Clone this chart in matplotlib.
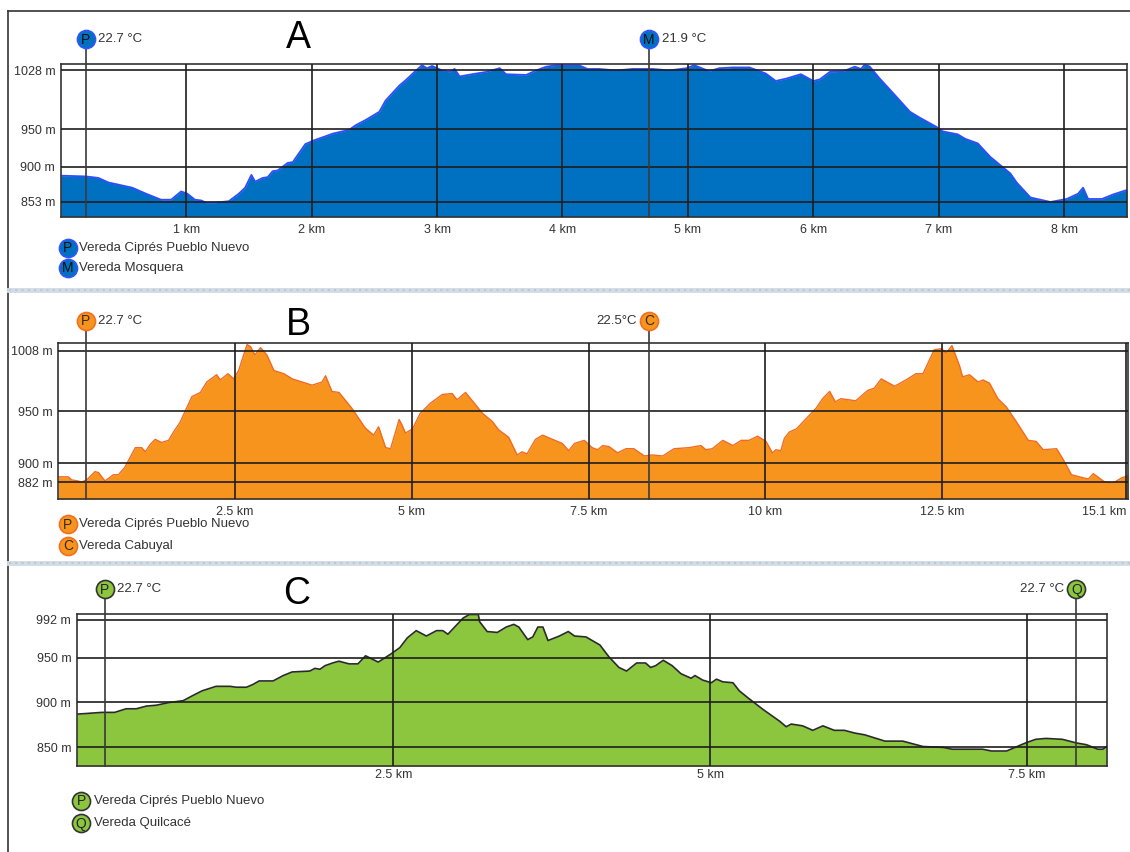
import matplotlib
matplotlib.use("Agg")
import matplotlib.pyplot as plt
from matplotlib.transforms import blended_transform_factory

plt.rcParams['font.family'] = ['Liberation Sans', 'DejaVu Sans']

W, H = 1130, 852

# elevation profiles (distance in km, elevation in m)
a_km = [0.00, 0.20, 0.30, 0.38, 0.57, 0.68, 0.80, 0.88, 0.96, 1.01, 1.07, 1.12, 1.16, 1.23,
        1.34, 1.42, 1.47, 1.52, 1.55, 1.61, 1.65, 1.69, 1.73, 1.81, 1.85, 1.95, 2.02, 2.17,
        2.30, 2.35, 2.43, 2.54, 2.59, 2.70, 2.75, 2.82, 2.88, 2.92, 2.96, 3.04, 3.10, 3.14,
        3.18, 3.28, 3.39, 3.50, 3.55, 3.71, 3.79, 3.87, 3.95, 4.13, 4.20, 4.29, 4.43, 4.56,
        4.72, 4.85, 4.99, 5.05, 5.17, 5.25, 5.36, 5.49, 5.62, 5.70, 5.78, 5.90, 6.00, 6.05,
        6.13, 6.24, 6.33, 6.38, 6.41, 6.45, 6.53, 6.64, 6.77, 6.85, 6.98, 7.03, 7.15, 7.21,
        7.31, 7.41, 7.49, 7.57, 7.62, 7.73, 7.89, 8.02, 8.11, 8.15, 8.19, 8.30, 8.39, 8.50]
a_elev = [888, 887, 885, 879, 872, 864, 856, 856, 867, 864, 856, 855, 852, 852,
          854, 864, 872, 889, 880, 885, 886, 894, 895, 905, 906, 930, 935, 944,
          949, 955, 962, 973, 988, 1008, 1015, 1026, 1035, 1031, 1034, 1028, 1026, 1030,
          1020, 1023, 1026, 1031, 1023, 1022, 1028, 1033, 1035, 1035, 1030, 1030, 1028, 1030,
          1030, 1028, 1031, 1035, 1027, 1031, 1032, 1032, 1024, 1014, 1017, 1023, 1014, 1016,
          1026, 1027, 1033, 1030, 1036, 1033, 1017, 997, 973, 965, 953, 947, 943, 937,
          931, 913, 902, 891, 879, 859, 853, 857, 864, 872, 857, 857, 863, 869]

b_km = [0.00, 0.14, 0.19, 0.28, 0.33, 0.40, 0.52, 0.57, 0.66, 0.78, 0.85, 0.94, 1.09, 1.18,
        1.23, 1.30, 1.37, 1.46, 1.56, 1.63, 1.72, 1.89, 2.01, 2.10, 2.24, 2.29, 2.40, 2.48,
        2.55, 2.67, 2.72, 2.78, 2.86, 2.95, 3.05, 3.19, 3.31, 3.59, 3.73, 3.78, 3.87, 3.97,
        4.15, 4.34, 4.46, 4.53, 4.63, 4.70, 4.77, 4.82, 4.86, 4.91, 5.01, 5.12, 5.27, 5.43,
        5.57, 5.64, 5.76, 5.88, 6.00, 6.14, 6.23, 6.37, 6.49, 6.56, 6.63, 6.75, 6.85, 6.99,
        7.13, 7.22, 7.30, 7.44, 7.55, 7.63, 7.70, 7.79, 7.91, 8.03, 8.14, 8.29, 8.40, 8.55,
        8.71, 8.92, 9.09, 9.16, 9.25, 9.40, 9.54, 9.66, 9.77, 9.89, 10.01, 10.10, 10.15, 10.22,
        10.27, 10.34, 10.44, 10.58, 10.72, 10.81, 10.91, 10.99, 11.07, 11.28, 11.45, 11.54,
        11.64, 11.83, 11.99, 12.13, 12.23, 12.39, 12.49, 12.56, 12.64, 12.75, 12.79, 12.89,
        13.01, 13.08, 13.17, 13.29, 13.41, 13.55, 13.72, 13.83, 13.93, 14.12, 14.21, 14.33,
        14.50, 14.57, 14.64, 14.80, 14.92, 15.04, 15.13]
b_elev = [887, 887, 884, 883, 882, 884, 892, 891, 883, 889, 889, 896, 915, 915,
          911, 918, 923, 920, 922, 930, 939, 964, 968, 978, 985, 980, 986, 981,
          989, 1014, 1012, 1004, 1011, 1004, 989, 986, 981, 975, 978, 984, 969, 968,
          953, 934, 927, 935, 915, 914, 930, 942, 937, 929, 933, 948, 958, 966,
          967, 961, 968, 958, 948, 940, 932, 925, 908, 911, 909, 923, 927, 923,
          919, 912, 919, 922, 915, 913, 917, 916, 910, 914, 914, 907, 908, 907,
          914, 915, 917, 913, 914, 922, 917, 922, 922, 926, 921, 910, 913, 912,
          924, 930, 933, 943, 953, 962, 969, 959, 962, 960, 970, 972,
          981, 974, 980, 986, 986, 1009, 1010, 1006, 1013, 993, 983, 985,
          978, 980, 977, 962, 954, 940, 922, 921, 913, 914, 904, 889,
          886, 885, 890, 882, 881, 886, 888]

c_km = [0.00, 0.20, 0.30, 0.39, 0.47, 0.55, 0.63, 0.73, 0.84, 0.92, 0.99, 1.10, 1.21, 1.26,
        1.34, 1.39, 1.44, 1.55, 1.63, 1.70, 1.84, 1.88, 1.92, 1.96, 2.02, 2.07, 2.15, 2.22,
        2.28, 2.38, 2.48, 2.55, 2.61, 2.68, 2.76, 2.84, 2.89, 2.93, 3.05, 3.10, 3.17, 3.18,
        3.24, 3.32, 3.39, 3.45, 3.49, 3.56, 3.60, 3.64, 3.68, 3.72, 3.81, 3.88, 3.93, 4.02,
        4.13, 4.20, 4.28, 4.34, 4.42, 4.49, 4.53, 4.57, 4.63, 4.70, 4.77, 4.85, 4.88, 4.94,
        5.01, 5.05, 5.10, 5.18, 5.23, 5.30, 5.42, 5.55, 5.60, 5.64, 5.73, 5.81, 5.89, 5.98,
        6.06, 6.14, 6.22, 6.38, 6.52, 6.68, 6.84, 6.91, 7.15, 7.22, 7.34, 7.49, 7.57, 7.65,
        7.78, 7.89, 7.97, 8.06, 8.10, 8.13]
c_elev = [887, 889, 889, 893, 893, 896, 897, 900, 902, 908, 913, 918, 918, 917,
          917, 920, 924, 924, 930, 934, 935, 938, 937, 941, 944, 946, 943, 943,
          952, 945, 954, 961, 972, 980, 974, 980, 980, 976, 994, 998, 998, 990,
          979, 978, 984, 987, 984, 970, 973, 984, 984, 969, 974, 979, 974, 973,
          964, 951, 939, 935, 944, 944, 939, 941, 947, 941, 932, 927, 930, 925,
          922, 926, 923, 922, 913, 905, 892, 879, 873, 876, 874, 869, 874, 869,
          869, 866, 864, 857, 857, 851, 850, 848, 848, 846, 846, 855, 859, 860,
          859, 855, 853, 848, 848, 851]

# axis ticks
a_xticks = [1, 2, 3, 4, 5, 6, 7, 8]
a_xlabels = ["1 km", "2 km", "3 km", "4 km", "5 km", "6 km", "7 km", "8 km"]
a_yticks = [853, 900, 950, 1028]

b_xticks = [2.5, 5, 7.5, 10, 12.5, 15.1]
b_xlabels = ["2.5 km", "5 km", "7.5 km", "10 km", "12.5 km", "15.1 km"]
b_yticks = [882, 900, 950, 1008]

c_xticks = [2.5, 5, 7.5]
c_xlabels = ["2.5 km", "5 km", "7.5 km"]
c_yticks = [850, 900, 950, 992]

# waypoints: letter, km, temperature text, text side
a_points = [("P", 0.20, "22.7 °C", "right"), ("M", 4.69, "21.9 °C", "right")]
b_points = [("P", 0.39, "22.7 °C", "right"), ("C", 8.36, "22.5°C", "left")]
c_points = [("P", 0.22, "22.7 °C", "right"), ("Q", 7.89, "22.7 °C", "left")]

a_legend = [("P", "Vereda Ciprés Pueblo Nuevo"), ("M", "Vereda Mosquera")]
b_legend = [("P", "Vereda Ciprés Pueblo Nuevo"), ("C", "Vereda Cabuyal")]
c_legend = [("P", "Vereda Ciprés Pueblo Nuevo"), ("Q", "Vereda Quilcacé")]

TXT = "#333333"
GRID = "#1e1e1e"

fig = plt.figure(figsize=(W / 100, H / 100), dpi=100)
fig.patch.set_facecolor("white")

# overlay in pixel coordinates for frame, titles and legends
deco = fig.add_axes([0, 0, 1, 1], zorder=10)
deco.set_xlim(0, W)
deco.set_ylim(H, 0)
deco.axis("off")


def make_axes(box):
    x0, y0, x1, y1 = box
    return fig.add_axes([x0 / W, 1 - y1 / H, (x1 - x0) / W, (y1 - y0) / H])


def draw_panel(box, xlim, ylim, km, elev, fill, edge, edge_w,
               xticks, xlabels, yticks, xpad, title, title_xy,
               points, marker_y, mface, medge, mtext,
               legend, leg_x, leg_y, leg_tx):
    ax = make_axes(box)
    ax.set_xlim(*xlim)
    ax.set_ylim(*ylim)
    ax.fill_between(km, elev, ylim[0], color=fill, lw=0, zorder=1)
    ax.plot(km, elev, color=edge, lw=edge_w, zorder=2)

    for x in xticks:
        ax.axvline(x, color=GRID, lw=1.2, zorder=3)
    for y in yticks:
        ax.axhline(y, color=GRID, lw=1.2, zorder=3)

    ax.set_xticks(xticks)
    ax.set_xticklabels(xlabels)
    ax.set_yticks(yticks)
    ax.set_yticklabels([f"{v} m" for v in yticks])
    ax.tick_params(length=0, labelsize=9, colors=TXT)
    ax.tick_params(axis="x", pad=xpad)
    ax.tick_params(axis="y", pad=4)
    # a label sitting on the right edge is pulled inside the figure
    last = ax.get_xticklabels()[-1]
    if xticks[-1] > xlim[1] - 0.3:
        last.set_horizontalalignment("right")
    for s in ax.spines.values():
        s.set_color("#333333")
        s.set_linewidth(1.2)

    # waypoint markers above the profile
    tr = blended_transform_factory(ax.transData, deco.transData)
    for letter, x, temp, side in points:
        deco.plot([x, x], [marker_y, box[3]], color="#3a3a3a", lw=1.2,
                  transform=tr, zorder=1)
        deco.plot([x], [marker_y], marker="o", ms=13, mfc=mface, mec=medge,
                  mew=1.2, transform=tr, zorder=2)
        deco.text(x, marker_y + 0.5, letter, transform=tr, ha="center",
                  va="center", fontsize=10, color=mtext, zorder=3)
        if side == "right":
            deco.annotate(temp, (x, marker_y), xycoords=tr, xytext=(9, 0),
                          textcoords="offset points", ha="left", va="center",
                          fontsize=9.5, color=TXT)
        else:
            deco.annotate(temp, (x, marker_y), xycoords=tr, xytext=(-9, 0),
                          textcoords="offset points", ha="right", va="center",
                          fontsize=9.5, color=TXT)

    deco.text(title_xy[0], title_xy[1], title, ha="center", va="center",
              fontsize=27, color="black")

    for (letter, name), y in zip(legend, leg_y):
        deco.plot([leg_x], [y], marker="o", ms=13, mfc=mface, mec=medge, mew=1.2)
        deco.text(leg_x, y + 0.5, letter, ha="center", va="center",
                  fontsize=10, color=mtext)
        deco.text(leg_tx, y, name, ha="left", va="center", fontsize=9.5, color=TXT)
    return ax


draw_panel((60.7, 64, 1127, 216.7), (0, 8.5), (833.4, 1036.6), a_km, a_elev,
           "#0070c0", "#2f4dff", 1.3, a_xticks, a_xlabels, a_yticks, 5, "A",
           (298, 38), a_points, 39, "#0070c0", "#3355ff", "#111111",
           a_legend, 68, [248, 268], 79)

draw_panel((58.3, 343.3, 1128, 499), (0, 15.13), (865.7, 1015.2), b_km, b_elev,
           "#f7941d", "#f26a21", 1.0, b_xticks, b_xlabels, b_yticks, 5, "B",
           (298, 325), b_points, 320.7, "#f7941d", "#f07020", "#3a2a1a",
           b_legend, 68, [524.3, 546], 79)

draw_panel((76.7, 614.3, 1106.7, 766), (0, 8.13), (829.3, 998.2), c_km, c_elev,
           "#8cc63f", "#2a2a2a", 1.2, c_xticks, c_xlabels, c_yticks, 2, "C",
           (297, 594), c_points, 589.3, "#8cc63f", "#333333", "#222222",
           c_legend, 81, [800.7, 823.3], 94)

# outer frame and panel separators
deco.plot([8, 8], [11, H], color="#333333", lw=1.2)
deco.plot([8, W], [11, 11], color="#333333", lw=1.2)
for y in [290, 563]:
    deco.plot([9, W], [y, y], color="#d3dce4", lw=3.5)
    deco.plot([9, W], [y, y], color="#b9c8d6", lw=1.5, ls=(0, (1, 2)))

fig.savefig("out.png", dpi=100, facecolor="white")
